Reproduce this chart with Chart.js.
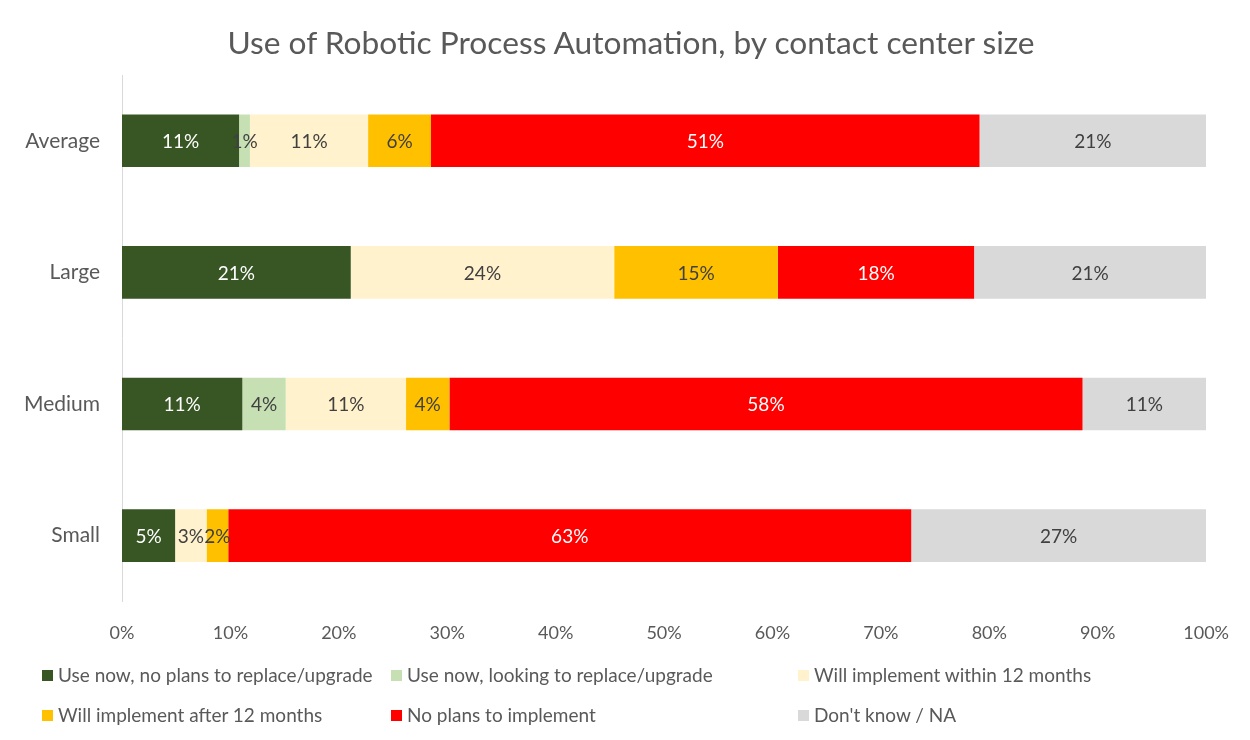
<!DOCTYPE html>
<html>
<head>
<meta charset="utf-8">
<script src="https://cdn.jsdelivr.net/npm/chart.js@4/dist/chart.umd.min.js"></script>
<style>
  html, body { margin: 0; padding: 0; background: #fff; }
  #wrap { position: relative; width: 1250px; height: 740px; overflow: hidden; }
  canvas { position: absolute; left: 0; top: 0; }
  #title { position: absolute; left: 0; width: 1262px; top: 23px; line-height: 38px; text-align: center;
           font-family: Lato, "Open Sans", sans-serif; font-size: 31.7px; color: #595959; white-space: nowrap; }
  .leg { position: absolute; font-family: Lato, "Open Sans", sans-serif; font-size: 19px; color: #595959; white-space: nowrap; line-height: 20px; }
  .leg span.sw { display: inline-block; width: 11px; height: 11px; margin-right: 5px; vertical-align: 1px; }
</style>
</head>
<body>
<div id="wrap">
  <canvas id="c" width="1250" height="740"></canvas>
  <div id="title"></div>
</div>
<script>
const chartTitle = "Use of Robotic Process Automation, by contact center size";
const categories = ["Average", "Large", "Medium", "Small"];
const seriesNames = [
  "Use now, no plans to replace/upgrade",
  "Use now, looking to replace/upgrade",
  "Will implement within 12 months",
  "Will implement after 12 months",
  "No plans to implement",
  "Don't know / NA"
];
const useNowNoPlans   = [10.8, 21.1, 11.1, 4.9];
const useNowReplace   = [1.0, 0, 4.0, 0];
const within12        = [10.9, 24.3, 11.1, 2.9];
const after12         = [5.8, 15.1, 4.0, 2.0];
const noPlans         = [50.6, 18.1, 58.4, 63.0];
const dontKnow        = [20.9, 21.4, 11.4, 27.2];
const xTicks = [0, 10, 20, 30, 40, 50, 60, 70, 80, 90, 100];

const seriesValues = [useNowNoPlans, useNowReplace, within12, after12, noPlans, dontKnow];
const colors = ["#375623", "#C6E0B4", "#FFF2CC", "#FFC000", "#FF0000", "#D9D9D9"];
const labelColors = ["#FFFFFF", "#404040", "#404040", "#404040", "#FFFFFF", "#404040"];
const FONT = "Lato, 'Open Sans', sans-serif";

document.getElementById("title").textContent = chartTitle;

const barLabels = {
  id: "barLabels",
  afterDatasetsDraw(chart) {
    const ctx = chart.ctx;
    ctx.save();
    ctx.font = "19px " + FONT;
    ctx.textAlign = "center";
    ctx.textBaseline = "middle";
    chart.data.datasets.forEach((ds, di) => {
      const meta = chart.getDatasetMeta(di);
      meta.data.forEach((el, i) => {
        const v = ds.data[i];
        if (!v) return;
        const cx = (el.x + el.base) / 2;
        ctx.fillStyle = labelColors[di];
        ctx.fillText(Math.round(v) + "%", cx, el.y + 1);
      });
    });
    ctx.restore();
  }
};

new Chart(document.getElementById("c"), {
  type: "bar",
  data: {
    labels: categories,
    datasets: seriesValues.map((vals, i) => ({
      label: seriesNames[i],
      data: vals,
      backgroundColor: colors[i],
      borderWidth: 0,
      barPercentage: 0.4,
      categoryPercentage: 1.0
    }))
  },
  options: {
    indexAxis: "y",
    responsive: false,
    animation: false,
    layout: { padding: { left: 0, right: 42, top: 75, bottom: 75 } },
    plugins: {
      legend: { display: false },
      tooltip: { enabled: false },
      title: { display: false }
    },
    scales: {
      x: {
        stacked: true,
        min: 0, max: 100,
        afterBuildTicks(scale) { scale.ticks = xTicks.map(v => ({ value: v })); },
        ticks: {
          color: "#595959",
          font: { family: FONT, size: 18 },
          padding: 21,
          callback: v => v + "%"
        },
        grid: { display: false, drawTicks: false },
        border: { display: false }
      },
      y: {
        stacked: true,
        afterFit(scale) { scale.width = 122; },
        ticks: {
          color: "#595959",
          font: { family: FONT, size: 21 },
          padding: 22
        },
        grid: { display: false, drawTicks: false },
        border: { display: true, color: "#D9D9D9", width: 1 }
      }
    }
  },
  plugins: [barLabels]
});

// Legend (HTML, built from series arrays)
const legPos = [[42, 665], [391, 665], [798, 665], [42, 705], [391, 705], [798, 705]];
const wrap = document.getElementById("wrap");
seriesNames.forEach((name, i) => {
  const d = document.createElement("div");
  d.className = "leg";
  d.style.left = legPos[i][0] + "px";
  d.style.top = legPos[i][1] + "px";
  const sw = document.createElement("span");
  sw.className = "sw";
  sw.style.background = colors[i];
  d.appendChild(sw);
  d.appendChild(document.createTextNode(name));
  wrap.appendChild(d);
});
</script>
</body>
</html>
